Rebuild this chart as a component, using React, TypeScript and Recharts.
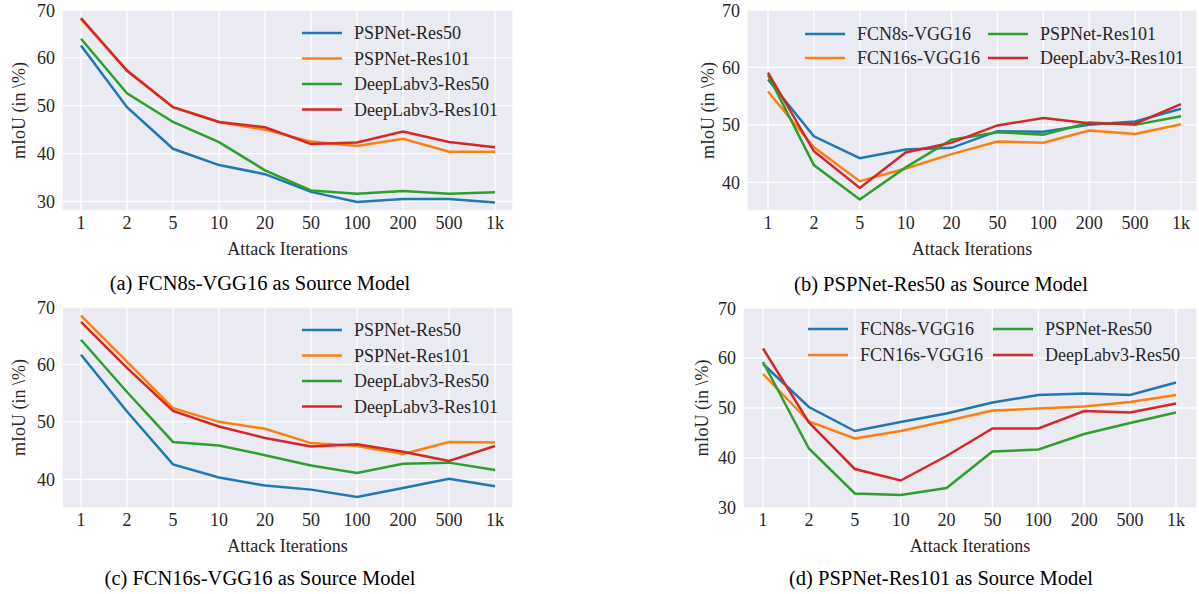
import { LineChart, Line, XAxis, YAxis, CartesianGrid, Legend, Label } from "recharts";

const FONT = '"Liberation Serif", "Times New Roman", serif';
const TEXT = "#262626";
const COLORS = ["#1f77b4", "#ff7f0e", "#2ca02c", "#d62728"];

const ITERATIONS = ["1", "2", "5", "10", "20", "50", "100", "200", "500", "1k"];

// (a) FCN8s-VGG16 as source
const A_PSPNET_RES50 = [62.6, 49.7, 41.0, 37.6, 35.7, 32.0, 29.9, 30.5, 30.5, 29.8];
const A_PSPNET_RES101 = [68.1, 57.4, 49.7, 46.6, 45.0, 42.5, 41.6, 43.1, 40.4, 40.4];
const A_DEEPLAB_RES50 = [64.0, 52.6, 46.6, 42.4, 36.5, 32.3, 31.6, 32.2, 31.6, 31.9];
const A_DEEPLAB_RES101 = [68.3, 57.3, 49.7, 46.6, 45.5, 42.0, 42.3, 44.6, 42.4, 41.3];

// (b) PSPNet-Res50 as source
const B_FCN8S = [57.9, 48.0, 44.2, 45.7, 46.0, 48.9, 48.8, 50.0, 50.6, 52.8];
const B_FCN16S = [55.8, 46.1, 40.2, 42.4, 44.9, 47.1, 46.9, 49.0, 48.4, 50.1];
const B_PSPNET_RES101 = [58.7, 43.0, 37.0, 42.6, 47.4, 48.7, 48.3, 50.4, 50.0, 51.5];
const B_DEEPLAB_RES101 = [59.1, 45.4, 39.0, 45.2, 46.9, 49.9, 51.2, 50.3, 50.2, 53.6];

// (c) FCN16s-VGG16 as source
const C_PSPNET_RES50 = [61.7, 51.8, 42.6, 40.3, 38.9, 38.2, 36.9, 38.5, 40.1, 38.8];
const C_PSPNET_RES101 = [68.5, 60.5, 52.4, 50.0, 48.8, 46.3, 45.8, 44.4, 46.5, 46.4];
const C_DEEPLAB_RES50 = [64.3, 55.2, 46.5, 45.9, 44.2, 42.4, 41.1, 42.7, 42.9, 41.6];
const C_DEEPLAB_RES101 = [67.4, 59.4, 51.9, 49.2, 47.2, 45.7, 46.1, 44.8, 43.2, 45.8];

// (d) PSPNet-Res101 as source
const D_FCN8S = [58.8, 50.2, 45.4, 47.2, 48.9, 51.1, 52.6, 52.9, 52.6, 55.1];
const D_FCN16S = [56.8, 47.3, 43.9, 45.4, 47.4, 49.5, 49.9, 50.3, 51.2, 52.6];
const D_PSPNET_RES50 = [59.2, 41.9, 32.9, 32.6, 34.0, 41.3, 41.7, 44.8, 47.0, 49.1];
const D_DEEPLAB_RES50 = [61.9, 47.1, 37.8, 35.5, 40.4, 45.9, 45.9, 49.4, 49.1, 50.9];

type Series = { name: string; values: number[] };

function buildRows(series: Series[]) {
  return ITERATIONS.map((it, i) => {
    const row: Record<string, string | number> = { it };
    series.forEach((s) => (row[s.name] = s.values[i]));
    return row;
  });
}

function LegendBox({ series, cols, colGap, rowGap }: { series: Series[]; cols: number; colGap: number; rowGap: number }) {
  const rows = Math.ceil(series.length / cols);
  return (
    <svg width={cols * colGap + 200} height={rows * rowGap + 10} style={{ overflow: "visible", display: "block" }}>
      {series.map((s, i) => {
        const col = Math.floor(i / rows);
        const row = i % rows;
        const x = col * colGap;
        const y = 12 + row * rowGap;
        return (
          <g key={s.name}>
            <line x1={x} x2={x + 40} y1={y} y2={y} stroke={COLORS[i]} strokeWidth={2.6} />
            <text x={x + 52} y={y} dominantBaseline="central" fill={TEXT} fontSize={18} fontFamily={FONT}>
              {s.name}
            </text>
          </g>
        );
      })}
    </svg>
  );
}

type PanelProps = {
  left: number;
  top: number;
  width: number;
  margin: { top: number; right: number; bottom: number; left: number };
  pad: { left: number; right: number };
  domain: [number, number];
  ticks: number[];
  series: Series[];
  legend: { x: number; y: number; cols: number; colGap: number; rowGap: number };
  yLabelGap: number;
};

function Panel({ left, top, width, margin, pad, domain, ticks, series, legend, yLabelGap }: PanelProps) {
  const data = buildRows(series);
  const tick = { fill: TEXT, fontSize: 18, fontFamily: FONT };
  return (
    <div style={{ position: "absolute", left, top }}>
      <LineChart width={width} height={260} data={data} margin={margin}>
        <CartesianGrid fill="#EAEAF2" fillOpacity={1} stroke="#ffffff" strokeWidth={1.3} />
        <XAxis
          dataKey="it"
          axisLine={false}
          tickLine={false}
          tickSize={3}
          tickMargin={2}
          interval={0}
          height={30}
          padding={pad}
          tick={tick}
        >
          <Label value="Attack Iterations" position="bottom" offset={1} fill={TEXT} fontSize={18} fontFamily={FONT} />
        </XAxis>
        <YAxis
          type="number"
          domain={domain}
          ticks={ticks}
          axisLine={false}
          tickLine={false}
          tickSize={4}
          tickMargin={3}
          width={52}
          tick={tick}
        >
          <Label
            content={(p: any) => {
              const vb = p.viewBox || { x: 0, y: 0, width: 0, height: 0 };
              const x = vb.x + vb.width - yLabelGap;
              const y = vb.y + vb.height / 2;
              return (
                <text
                  x={x}
                  y={y}
                  transform={`rotate(-90 ${x} ${y})`}
                  textAnchor="middle"
                  dominantBaseline="central"
                  fill={TEXT}
                  fontSize={18}
                  fontFamily={FONT}
                >
                  mIoU (in \%)
                </text>
              );
            }}
          />
        </YAxis>
        <Legend
          layout="horizontal"
          verticalAlign="middle"
          align="center"
          wrapperStyle={{ left: legend.x, top: legend.y, width: 420, height: 110 }}
          content={() => <LegendBox series={series} cols={legend.cols} colGap={legend.colGap} rowGap={legend.rowGap} />}
        />
        {series.map((s, i) => (
          <Line
            key={s.name}
            type="linear"
            dataKey={s.name}
            name={s.name}
            stroke={COLORS[i]}
            strokeWidth={2.5}
            dot={false}
            activeDot={false}
            isAnimationActive={false}
          />
        ))}
      </LineChart>
    </div>
  );
}

function Caption({ cx, cy, text }: { cx: number; cy: number; text: string }) {
  return (
    <div
      style={{
        position: "absolute",
        left: cx - 220,
        top: cy - 12,
        width: 440,
        textAlign: "center",
        fontFamily: FONT,
        fontSize: 20.5,
        lineHeight: "24px",
        color: "#000",
        whiteSpace: "nowrap",
      }}
    >
      {text}
    </div>
  );
}

export default function App() {
  const seriesA: Series[] = [
    { name: "PSPNet-Res50", values: A_PSPNET_RES50 },
    { name: "PSPNet-Res101", values: A_PSPNET_RES101 },
    { name: "DeepLabv3-Res50", values: A_DEEPLAB_RES50 },
    { name: "DeepLabv3-Res101", values: A_DEEPLAB_RES101 },
  ];
  const seriesB: Series[] = [
    { name: "FCN8s-VGG16", values: B_FCN8S },
    { name: "FCN16s-VGG16", values: B_FCN16S },
    { name: "PSPNet-Res101", values: B_PSPNET_RES101 },
    { name: "DeepLabv3-Res101", values: B_DEEPLAB_RES101 },
  ];
  const seriesC: Series[] = [
    { name: "PSPNet-Res50", values: C_PSPNET_RES50 },
    { name: "PSPNet-Res101", values: C_PSPNET_RES101 },
    { name: "DeepLabv3-Res50", values: C_DEEPLAB_RES50 },
    { name: "DeepLabv3-Res101", values: C_DEEPLAB_RES101 },
  ];
  const seriesD: Series[] = [
    { name: "FCN8s-VGG16", values: D_FCN8S },
    { name: "FCN16s-VGG16", values: D_FCN16S },
    { name: "PSPNet-Res50", values: D_PSPNET_RES50 },
    { name: "DeepLabv3-Res50", values: D_DEEPLAB_RES50 },
  ];

  return (
    <div
      style={{
        position: "absolute",
        left: 0,
        top: 0,
        width: 1199,
        height: 594,
        background: "#ffffff",
        fontFamily: FONT,
        overflow: "hidden",
      }}
    >
      <Panel
        left={0}
        top={0}
        width={530}
        margin={{ top: 10, right: 17, bottom: 19, left: 10 }}
        pad={{ left: 19, right: 18 }}
        domain={[28, 70]}
        ticks={[30, 40, 50, 60, 70]}
        series={seriesA}
        legend={{ x: 302, y: 21, cols: 1, colGap: 0, rowGap: 25.5 }}
        yLabelGap={43}
      />
      <Panel
        left={640}
        top={0}
        width={559}
        margin={{ top: 10, right: 2, bottom: 19, left: 55 }}
        pad={{ left: 21, right: 16 }}
        domain={[35, 70]}
        ticks={[40, 50, 60, 70]}
        series={seriesB}
        legend={{ x: 165, y: 22, cols: 2, colGap: 183, rowGap: 24 }}
        yLabelGap={39}
      />
      <Panel
        left={0}
        top={297}
        width={530}
        margin={{ top: 10, right: 17, bottom: 19, left: 10 }}
        pad={{ left: 19, right: 18 }}
        domain={[35, 70]}
        ticks={[40, 50, 60, 70]}
        series={seriesC}
        legend={{ x: 302, y: 21, cols: 1, colGap: 0, rowGap: 25.5 }}
        yLabelGap={43}
      />
      <Panel
        left={640}
        top={298}
        width={559}
        margin={{ top: 10, right: 2, bottom: 20, left: 51 }}
        pad={{ left: 20, right: 21 }}
        domain={[30, 70]}
        ticks={[30, 40, 50, 60, 70]}
        series={seriesD}
        legend={{ x: 168, y: 19, cols: 2, colGap: 185, rowGap: 26 }}
        yLabelGap={41}
      />
      <Caption cx={260} cy={283} text="(a) FCN8s-VGG16 as Source Model" />
      <Caption cx={941} cy={284} text="(b) PSPNet-Res50 as Source Model" />
      <Caption cx={260} cy={578} text="(c) FCN16s-VGG16 as Source Model" />
      <Caption cx={941} cy={578} text="(d) PSPNet-Res101 as Source Model" />
    </div>
  );
}
